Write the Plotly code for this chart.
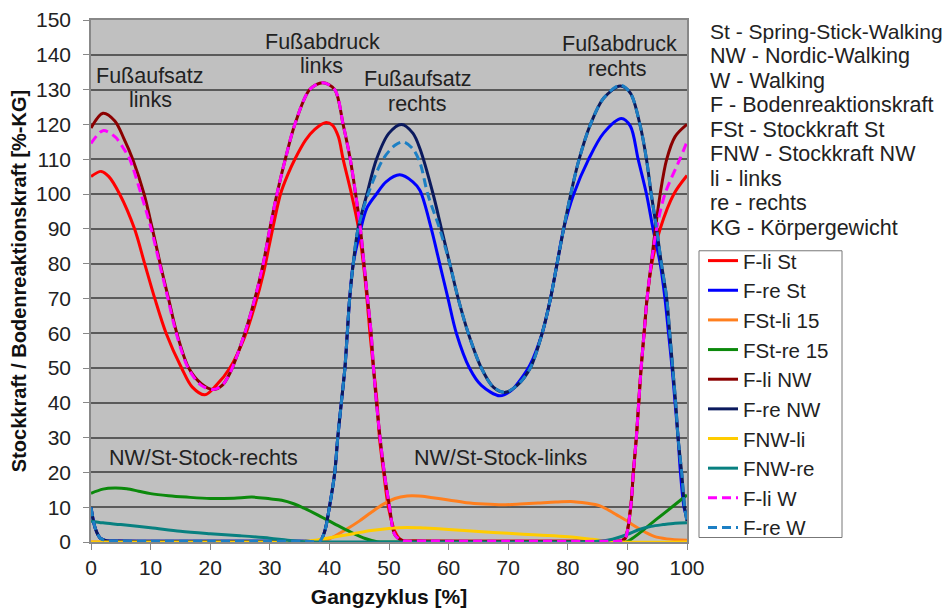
import plotly.graph_objects as go

# ---------------- data ----------------
# F-li St (red)
fli_st_x = [0, 1.7, 3, 4.8, 7.3, 9.0, 10.7, 12.6, 15.2, 17, 19.1, 21, 23.3, 25.8, 27.5, 28.9, 30,
            31.8, 33, 34.2, 36, 37.5, 39.3, 40.5, 41.5, 42.3, 43.7, 44.9, 45.7, 46.3, 46.8, 47.4,
            48, 48.4, 49.1, 49.9, 51, 52, 55, 70, 86, 88.8, 89.6, 90.55, 91, 91.5, 91.9, 92.3, 92.8,
            93.3, 94.1, 95.5, 97.8, 100]
fli_st_y = [105, 106.5, 105, 100, 90, 80, 70, 60, 50, 44.5, 42.3, 45, 50, 59, 68, 77, 86,
            100, 105.5, 110, 115.5, 118.5, 120.5, 119.8, 116.5, 110, 100, 90, 80, 70, 60, 50,
            40, 30, 20, 10, 3, 0.6, 0.3, 0.2, 0.2, 0.3, 1, 10, 20, 30, 40, 50, 60,
            70, 80, 90, 100, 105.3]

# F-re St (blue)
fre_st_x = [0, 0.7, 1.5, 2.5, 4, 10, 20, 30, 36, 38.4, 39.2, 40, 40.9, 41.4, 42, 42.6, 43, 43.4, 44,
            45, 46.3, 47.9, 49.5, 51.8, 54, 55.2, 57.1, 58.5, 59.9, 61.3, 63.5, 65.5, 68.6,
            70.5, 72, 73.7, 75.7, 77.1, 78.2, 79.3, 81, 83.5, 86, 89, 90.5, 91.8, 93.2, 94.3,
            95.5, 96.3, 96.9, 97.5, 98, 98.5, 98.9, 99.5, 100]
fre_st_y = [10, 4, 1.2, 0.4, 0.3, 0.2, 0.2, 0.2, 0.2, 0.3, 3, 10, 20, 30, 40, 50, 60, 70, 80,
            88, 96, 100, 103.5, 105.5, 103.5, 101, 90, 80, 70, 60, 50, 45, 42,
            43.5, 46.5, 51, 60, 70, 80, 90, 100, 110, 117.5, 121.7, 119.5, 110, 100, 90,
            80, 70, 60, 50, 40, 30, 20, 10, 7]

# FSt-li 15 (orange)
fst_li_x = [0, 20, 36, 38, 39.5, 41, 43, 45, 47, 49, 51, 53, 55, 57, 60, 63, 66, 69, 72, 75, 78,
            81, 83, 85.4, 87, 88.2, 90, 91, 93, 94.5, 96.6, 100]
fst_li_y = [0, 0, 0, 0, 0.5, 1.8, 3.8, 6, 8.5, 10.8, 12.5, 13.2, 13.2, 12.8, 12.1, 11.3, 10.9,
            10.7, 10.9, 11.2, 11.5, 11.6, 11.2, 10.4, 9, 7.8, 6, 4.8, 2.8, 1.6, 0.9, 0.5]

# FSt-re 15 (green)
fst_re_x = [0, 2, 4, 6, 8, 10, 13, 16, 20, 24, 27, 30, 32, 34, 36, 38, 40, 42, 44, 46, 48,
            50, 70, 88, 89.8, 95, 100]
fst_re_y = [14, 15.2, 15.5, 15.3, 14.6, 13.9, 13.3, 12.9, 12.5, 12.6, 12.9, 12.4, 12, 11,
            9.5, 7.8, 6, 4.2, 2.5, 1, 0.1, 0, 0, 0, 0, 6.7, 13.5]

# F-li NW (dark red)
fli_nw_x = [0, 2, 4, 5.5, 7, 8.9, 10.3, 11.6, 13, 14.4, 16.4, 18.5, 20.5, 22, 23.3, 25.8,
            27.5, 28.9, 30, 31.2, 32.6, 34.2, 36.7, 38.9, 40.9, 42.3, 43.5, 44.4, 45.2, 45.8,
            46.4, 47, 47.4, 47.9, 48.5, 49.2, 50.1, 51, 52.3, 55, 70, 86, 88.8, 89.6, 90.55, 91,
            91.5, 91.9, 92.3, 92.8, 93.3, 94, 94.7, 95.5, 96.6, 98, 100]
fli_nw_y = [119, 123.2, 121, 116, 110, 100, 90, 80, 70, 60, 50, 45.5, 43.8, 45, 48.5, 60,
            70, 80, 90, 100, 110, 120, 130, 132, 130, 120, 110, 100, 90, 80,
            70, 60, 50, 40, 30, 20, 10, 2, 0.4, 0.3, 0.2, 0.2, 0.3, 1, 10, 20,
            30, 40, 50, 60, 70, 80, 90, 100, 110, 116.5, 120]

# F-re NW (navy)
fre_nw_x = [0, 0.7, 1.5, 2.5, 4, 10, 20, 30, 36, 38.4, 39.2, 40, 40.9, 41.4, 42, 42.6, 43, 43.4, 44,
            44.8, 46.3, 47.9, 50, 52.1, 54, 55.2, 57.4, 58.8, 60.2, 61.6, 63.3, 65.5, 67.5,
            69.5, 71.5, 73.7, 75.7, 77.1, 78.2, 79.3, 80.5, 81.9, 83.8, 86, 88.8, 90.5, 92.1,
            93.2, 94, 94.9, 95.7, 96.6, 97.1, 97.6, 98.1, 98.5, 99.1, 99.6, 100]
fre_nw_y = [10, 4, 1.2, 0.4, 0.3, 0.2, 0.2, 0.2, 0.2, 0.3, 3, 10, 20, 30, 40, 50, 60, 70, 80,
            90, 100, 110, 117.5, 120, 117.5, 113, 100, 90, 80, 70, 60, 50, 44.5,
            43, 45, 50, 60, 70, 80, 90, 100, 110, 120, 127.5, 131, 129, 120,
            110, 100, 90, 80, 70, 60, 50, 40, 30, 20, 10, 6]

# FNW-li (yellow)
fnw_li_x = [0, 20, 33, 35, 38, 41, 44, 47, 50, 53, 56, 60, 65, 70, 75, 80, 84, 87, 89, 100]
fnw_li_y = [0, 0, 0, 0.1, 0.6, 1.5, 2.4, 3.3, 3.9, 4.2, 4, 3.6, 3, 2.5, 2, 1.5, 0.8, 0.2, 0, 0]

# FNW-re (teal)
fnw_re_x = [0, 2, 5, 10, 15, 20, 25, 30, 33, 36, 40, 60, 80, 85, 87.5, 90, 92, 94, 96, 98, 100]
fnw_re_y = [6, 5.5, 5, 4.1, 3.1, 2.4, 1.8, 1.1, 0.5, 0.1, 0, 0, 0, 0.2, 0.8, 2.2, 3.6, 4.5,
            5, 5.4, 5.5]

# F-li W (magenta, dashed)
fli_w_x = [0, 2, 4, 5.5, 6.5, 8.4, 10.1, 11.5, 12.9, 14.3, 16.3, 18.5, 20.5, 22, 23.3, 25.8,
           27.5, 28.9, 30, 31.2, 32.6, 34.2, 36.7, 38.9, 40.9, 42.3, 43.5, 44.4, 45.2, 45.8,
           46.4, 47, 47.4, 47.9, 48.5, 49.2, 50.1, 51, 52.3, 55, 70, 86, 88.8, 89.6, 90.55, 91,
           91.5, 91.9, 92.3, 92.8, 93.3, 94, 94.9, 96.3, 98.8, 100]
fli_w_y = [114.5, 118.2, 116.5, 113, 110, 100, 90, 80, 70, 60, 50, 45, 43.8, 45, 48.5, 60,
           70, 80, 90, 100, 110, 120, 130, 132, 130, 120, 110, 100, 90, 80,
           70, 60, 50, 40, 30, 20, 10, 2, 0.4, 0.3, 0.2, 0.2, 0.3, 1, 10, 20,
           30, 40, 50, 60, 70, 80, 90, 100, 110, 115]

# F-re W (steel blue, dashed)
fre_w_x = [0, 0.7, 1.5, 2.5, 4, 10, 20, 30, 36, 38.4, 39.2, 40, 40.9, 41.4, 42, 42.6, 43, 43.4, 44,
           44.8, 46.5, 49, 51, 52.4, 54, 55.2, 56.5, 58.5, 60.2, 61.6, 63.3, 65.5, 67.5,
           69.5, 71.5, 73.7, 75.7, 77.1, 78.2, 79.3, 80.5, 81.9, 83.8, 86, 88.8, 90.5, 92.1,
           93.2, 94, 94.9, 95.7, 96.6, 97.1, 97.6, 98.1, 98.5, 99.1, 99.6, 100]
fre_w_y = [10, 4, 1.2, 0.4, 0.3, 0.2, 0.2, 0.2, 0.2, 0.3, 3, 10, 20, 30, 40, 50, 60, 70, 80,
           90, 100, 110, 114, 115, 113, 109, 100, 90, 80, 70, 60, 50, 44.5,
           43, 45, 50, 60, 70, 80, 90, 100, 110, 120, 127.5, 131.3, 129, 120,
           110, 100, 90, 80, 70, 60, 50, 40, 30, 20, 10, 6]

series_names = ["F-li St", "F-re St", "FSt-li 15", "FSt-re 15", "F-li NW", "F-re NW",
                "FNW-li", "FNW-re", "F-li W", "F-re W"]

x_ticks = [0, 10, 20, 30, 40, 50, 60, 70, 80, 90, 100]
y_ticks = [0, 10, 20, 30, 40, 50, 60, 70, 80, 90, 100, 110, 120, 130, 140, 150]

abbrev_lines = ["St - Spring-Stick-Walking", "NW - Nordic-Walking", "W - Walking",
                "F - Bodenreaktionskraft", "FSt - Stockkraft St", "FNW - Stockkraft NW",
                "li - links", "re - rechts", "KG - Körpergewicht"]

# (text, x, y) phase labels in data coordinates
phase_labels = [("Fußaufsatz", 9.9, 133.9), ("links", 9.9, 127.0),
                ("Fußabdruck", 38.8, 143.7), ("links", 38.7, 136.7),
                ("Fußaufsatz", 54.8, 133.0), ("rechts", 54.8, 126.0),
                ("Fußabdruck", 88.6, 143.2), ("rechts", 88.4, 136.0),
                ("NW/St-Stock-rechts", 18.8, 24.0), ("NW/St-Stock-links", 68.7, 24.0)]

# ---------------- styles ----------------
FONT = "Liberation Sans, Arial, sans-serif"
styles = [
    dict(color="#ff0000", dash="solid"),
    dict(color="#0000ff", dash="solid"),
    dict(color="#ff7f1e", dash="solid"),
    dict(color="#0c890c", dash="solid"),
    dict(color="#8b0000", dash="solid"),
    dict(color="#0b1a5e", dash="solid"),
    dict(color="#ffcc00", dash="solid"),
    dict(color="#088080", dash="solid"),
    dict(color="#ff00ff", dash="9px,5px"),
    dict(color="#1c7fc4", dash="9px,5px"),
]
xs = [fli_st_x, fre_st_x, fst_li_x, fst_re_x, fli_nw_x, fre_nw_x, fnw_li_x, fnw_re_x, fli_w_x, fre_w_x]
ys = [fli_st_y, fre_st_y, fst_li_y, fst_re_y, fli_nw_y, fre_nw_y, fnw_li_y, fnw_re_y, fli_w_y, fre_w_y]

fig = go.Figure()
for name, x, y, st in zip(series_names, xs, ys, styles):
    fig.add_trace(go.Scatter(
        x=x, y=y, name=name, mode="lines",
        line=dict(color=st["color"], width=3, dash=st["dash"], shape="spline", smoothing=0.9),
    ))

# layout geometry: page pixels of the reference, page has an 8px body margin
OFF = 8
W, H = 952 - OFF, 612 - OFF
L, R, T, B = 91 - OFF, 687 - OFF, 20 - OFF, 542.5 - OFF

def page_to_paper(px, py):
    return (px - OFF - L) / (R - L), (B - (py - OFF)) / (B - T)

for text, x, y in phase_labels:
    fig.add_annotation(x=x, y=y, xref="x", yref="y", text=text, showarrow=False,
                       font=dict(family=FONT, size=21.5, color="#222222"),
                       xanchor="center", yanchor="middle")

for i, line in enumerate(abbrev_lines):
    ax, ay = page_to_paper(708, 31.7 + i * 24.5)
    fig.add_annotation(x=ax, y=ay, xref="paper", yref="paper", text=line, showarrow=False,
                       font=dict(family=FONT, size=21 if i == 0 else 21.5, color="#222222"),
                       xanchor="left", yanchor="middle")

# legend frame drawn as a shape so its box matches the reference
bx0, by0 = page_to_paper(699, 538)
bx1, by1 = page_to_paper(842, 251)
fig.add_shape(type="rect", xref="paper", yref="paper", x0=bx0, y0=by0, x1=bx1, y1=by1,
              line=dict(color="#777777", width=1), fillcolor="white", layer="above")

lx, ly = page_to_paper(703, 241)
fig.update_layout(
    width=W, height=H,
    margin=dict(l=L, r=W - R, t=T, b=H - B, autoexpand=False),
    paper_bgcolor="white",
    plot_bgcolor="#c0c0c0",
    font=dict(family=FONT, size=21, color="#222222"),
    legend=dict(x=lx, y=ly, xanchor="left", yanchor="top",
                borderwidth=0, bgcolor="rgba(0,0,0,0)",
                font=dict(family=FONT, size=20.5, color="#222222"),
                itemwidth=30, tracegroupgap=0),
    showlegend=True,
)
fig.update_xaxes(range=[0, 100], tickvals=x_ticks, showgrid=False, zeroline=False,
                 showline=True, linecolor="#888888", linewidth=1.5, mirror=True,
                 ticks="outside", ticklen=6, tickcolor="#888888",
                 tickfont=dict(family=FONT, size=21, color="#222222"),
                 title=dict(text="<b>Gangzyklus [%]</b>", font=dict(family=FONT, size=21, color="#111111"),
                            standoff=11))
fig.update_yaxes(range=[0, 150], tickvals=y_ticks, showgrid=True, gridcolor="#5a5a5a",
                 gridwidth=1.5, zeroline=False,
                 showline=True, linecolor="#888888", linewidth=1.5, mirror=True,
                 ticks="outside", ticklen=6, tickcolor="#888888", ticklabelstandoff=8,
                 tickfont=dict(family=FONT, size=21, color="#222222"),
                 title=dict(text="<b>Stockkraft / Bodenreaktionskraft [%-KG]</b>",
                            font=dict(family=FONT, size=20, color="#111111"), standoff=7))

fig.write_html("out.html")
